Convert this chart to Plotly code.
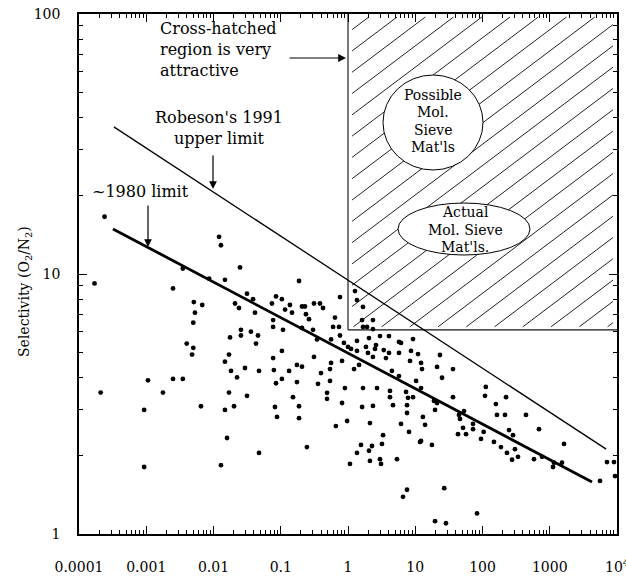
import numpy as np
import plotly.graph_objects as go

# ---------------- data ----------------
# O2 permeability (Barrer) and O2/N2 selectivity of the membrane materials
O2_PERMEABILITY = [
    0.00017, 0.00021, 0.00024, 0.00093, 0.00093, 0.00106, 0.00177, 0.0025, 0.0025, 0.0035,
    0.0035, 0.0040, 0.0050, 0.0048, 0.0050, 0.0051, 0.0053, 0.0065, 0.0068, 0.0086,
    0.0121, 0.0129, 0.0129, 0.0148, 0.0148, 0.0148, 0.0159, 0.017, 0.017, 0.0176,
    0.0182, 0.0202, 0.0209, 0.0224, 0.0239, 0.0248, 0.0256, 0.0256, 0.0294, 0.0315,
    0.0315, 0.036, 0.0387, 0.0414, 0.0429, 0.0459, 0.0475, 0.0475, 0.074, 0.077,
    0.077, 0.077, 0.079, 0.082, 0.085, 0.085, 0.088, 0.104, 0.104, 0.104,
    0.108, 0.116, 0.133, 0.137, 0.147, 0.152, 0.174, 0.174, 0.187, 0.187,
    0.187, 0.207, 0.229, 0.207, 0.207, 0.237, 0.245, 0.263, 0.302, 0.312,
    0.312, 0.346, 0.358, 0.383, 0.397, 0.425, 0.488, 0.488, 0.54, 0.54,
    0.56, 0.56, 0.60, 0.64, 0.66, 0.735, 0.76, 0.76, 0.815, 0.815,
    0.87, 0.90, 1.0, 0.97, 1.07, 1.11, 1.23, 1.27, 1.36, 1.36,
    1.36, 1.36, 1.46, 1.56, 1.62, 1.67, 1.62, 1.67, 1.67, 1.92,
    1.85, 1.98, 2.05, 2.05, 2.27, 2.12, 2.12, 2.35, 2.35, 2.35,
    2.35, 2.52, 2.61, 2.70, 2.99, 2.99, 3.1, 3.2, 3.4, 3.32,
    3.67, 4.07, 4.21, 4.21, 4.07, 4.5, 4.67, 5.35, 5.73, 6.14,
    5.73, 5.73, 6.14, 6.58, 7.29, 7.8, 9.26, 7.54, 7.54, 7.54,
    8.08, 8.65, 9.26, 10.3, 11.0, 8.36, 12.2, 12.6, 12.2, 11.8,
    12.2, 13.0, 14.0, 17.7, 19.0, 21.1, 19.7, 19.7, 21.1, 23.3,
    25.0, 27.0, 28.6, 36.4, 36.4, 43.2, 44.7, 46.3, 51.3, 53.1,
    56.9, 72.3, 72.3, 82.9, 95.0, 104, 112, 109, 158, 148,
    188, 216, 164, 224, 231, 248, 275, 284, 304, 337,
    443, 583, 692, 767, 1118, 1157, 1520, 1630, 5590, 7100,
    9020, 9340,
]
SELECTIVITY = [
    9.2, 3.5, 16.6, 3.0, 1.81, 3.9, 3.5, 8.8, 3.95, 10.5,
    3.95, 5.4, 5.2, 4.9, 6.5, 7.8, 7.1, 3.1, 7.6, 9.6,
    13.9, 12.9, 1.84, 9.5, 4.6, 3.0, 2.34, 4.9, 3.5, 5.7,
    4.24, 3.1, 7.7, 4.0, 7.4, 10.6, 6.1, 5.8, 4.35, 8.4,
    3.4, 6.0, 8.0, 7.1, 5.4, 5.8, 4.24, 2.05, 7.7, 6.65,
    6.26, 4.75, 4.27, 3.08, 8.2, 3.8, 2.82, 8.0, 5.06, 3.95,
    6.1, 7.3, 4.24, 7.6, 7.1, 3.36, 4.47, 3.84, 9.4, 3.1,
    2.79, 7.5, 7.5, 6.2, 4.4, 7.0, 2.16, 6.7, 6.1, 7.7,
    4.8, 5.6, 3.78, 7.7, 4.16, 7.4, 3.49, 3.31, 4.31, 3.88,
    5.6, 4.55, 6.26, 6.8, 2.6, 6.26, 8.15, 5.8, 4.63, 3.19,
    5.43, 3.64, 5.24, 2.72, 1.86, 5.15, 4.31, 8.6, 7.94, 5.53,
    5.06, 2.05, 4.47, 2.2, 6.65, 7.47, 3.08, 3.64, 6.26, 6.26,
    5.24, 4.97, 5.67, 2.09, 2.18, 2.67, 1.91, 6.65, 6.14, 4.8,
    3.11, 5.15, 5.33, 3.64, 5.77, 1.94, 1.86, 2.22, 5.1, 2.40,
    4.75, 5.77, 3.55, 3.36, 4.97, 4.24, 3.13, 1.94, 5.48, 5.43,
    4.97, 4.05, 2.65, 1.39, 3.52, 3.34, 3.36, 3.13, 2.92, 1.48,
    2.47, 5.06, 5.62, 3.88, 4.92, 4.63, 4.55, 4.31, 3.64, 2.26,
    2.28, 2.82, 2.63, 2.2, 3.25, 3.19, 3.0, 1.12, 4.39, 4.88,
    3.99, 1.50, 1.10, 4.31, 3.36, 2.42, 2.87, 2.77, 2.56, 2.97,
    2.42, 2.65, 2.53, 1.20, 2.32, 2.47, 3.68, 3.40, 3.16, 2.26,
    2.16, 2.87, 2.87, 3.36, 2.05, 2.51, 1.93, 2.40, 2.12, 1.98,
    2.87, 1.94, 2.53, 1.98, 1.81, 1.88, 1.88, 2.22, 1.60, 1.89,
    1.89, 1.67,
]

# upper-bound lines (end points)
ROBESON_1991_X = [3.3e-4, 6900]
ROBESON_1991_Y = [36.8, 2.12]
LIMIT_1980_X = [3.2e-4, 4250]
LIMIT_1980_Y = [14.9, 1.585]

# attractive (cross-hatched) region
REGION_X_MIN = 1.0
REGION_Y_MIN = 6.1

X_TICK_VALUES = [1e-4, 1e-3, 1e-2, 1e-1, 1, 10, 100, 1000, 1e4]
X_TICK_LABELS = ["0.0001", "0.001", "0.01", "0.1", "1", "10", "100", "1000", "10<sup>4</sup>"]
Y_TICK_VALUES = [1, 10, 100]
Y_TICK_LABELS = ["1", "10", "100"]

# ---------------- layout geometry ----------------
W, H = 626, 578
L, R, T, B = 79, 9, 14, 44
PW, PH = W - L - R, H - T - B
X_LOG_RANGE = [-4, 4]
Y_LOG_RANGE = [0, 2]
FONT = "DejaVu Serif"


def paper_x(px):
    return (px - L) / PW


def paper_y(py):
    return (H - B - py) / PH


fig = go.Figure()

# hatch lines inside the attractive region (computed in log space)
HATCH_SLOPE = 0.195   # decades of y per decade of x
HATCH_STEP = 0.42     # decades of x between lines
lx0, lx1 = np.log10(REGION_X_MIN), X_LOG_RANGE[1]
ly0, ly1 = np.log10(REGION_Y_MIN), Y_LOG_RANGE[1]
hx, hy = [], []
c = lx1 - 0.2
while c > lx0 - (ly1 - ly0) / HATCH_SLOPE:
    xs = max(lx0, c)
    xe = min(lx1, c + (ly1 - ly0) / HATCH_SLOPE)
    xs_i, xe_i = xs + 0.06, xe - 0.06
    if xe_i > xs_i:
        ys = ly0 + HATCH_SLOPE * (xs_i - c)
        ye = ly0 + HATCH_SLOPE * (xe_i - c)
        hx += [10 ** xs_i, 10 ** xe_i, None]
        hy += [10 ** ys, 10 ** ye, None]
    c -= HATCH_STEP
fig.add_trace(go.Scatter(x=hx, y=hy, mode="lines",
                         line=dict(color="#222", width=1), hoverinfo="skip"))

# region borders
fig.add_trace(go.Scatter(x=[REGION_X_MIN, REGION_X_MIN], y=[REGION_Y_MIN, 10 ** Y_LOG_RANGE[1]],
                         mode="lines", line=dict(color="#777", width=2), hoverinfo="skip"))
fig.add_trace(go.Scatter(x=[REGION_X_MIN, 10 ** X_LOG_RANGE[1]], y=[REGION_Y_MIN, REGION_Y_MIN],
                         mode="lines", line=dict(color="#111", width=1.3), hoverinfo="skip"))

# limit lines
fig.add_trace(go.Scatter(x=ROBESON_1991_X, y=ROBESON_1991_Y, mode="lines",
                         line=dict(color="black", width=1.3), name="Robeson 1991"))
fig.add_trace(go.Scatter(x=LIMIT_1980_X, y=LIMIT_1980_Y, mode="lines",
                         line=dict(color="black", width=2.8), name="1980 limit"))

# data points
fig.add_trace(go.Scatter(x=O2_PERMEABILITY, y=SELECTIVITY, mode="markers",
                         marker=dict(color="black", size=4.8), name="materials"))

# circle and ellipse (white filled so hatch is hidden inside)
fig.add_shape(type="circle", xref="paper", yref="paper",
              x0=paper_x(383), x1=paper_x(483), y0=paper_y(170), y1=paper_y(75),
              line=dict(color="black", width=1), fillcolor="white", layer="above")
fig.add_shape(type="circle", xref="paper", yref="paper",
              x0=paper_x(398), x1=paper_x(530), y0=paper_y(255), y1=paper_y(203),
              line=dict(color="black", width=1), fillcolor="white", layer="above")

annotations = []


def text(s, px, py, size=16, xanchor="center", align="center"):
    annotations.append(dict(text=s, x=paper_x(px), y=paper_y(py), xref="paper", yref="paper",
                            xanchor=xanchor, yanchor="middle", showarrow=False, align=align,
                            font=dict(family=FONT, size=size, color="black")))


def arrow(hx_, hy_, tx, ty):
    annotations.append(dict(text="", x=paper_x(hx_), y=paper_y(hy_), xref="paper", yref="paper",
                            ax=tx - hx_, ay=ty - hy_, axref="pixel", ayref="pixel",
                            showarrow=True, arrowhead=2, arrowsize=1.3, arrowwidth=1.2,
                            arrowcolor="black"))


text("Cross-hatched<br>region is very<br>attractive", 158, 50, xanchor="left", align="left")
arrow(346, 58, 288, 58)

text("Robeson's 1991<br>upper limit", 219, 128)
arrow(213, 189, 213, 154)

text("~1980 limit", 140, 191)
arrow(148, 247, 148, 204)

for s, py in [("Possible", 95), ("Mol.", 112), ("Sieve", 130), ("Mat'ls", 147)]:
    text(s, 433, py, size=14)
for s, py in [("Actual", 212), ("Mol. Sieve", 230), ("Mat'ls.", 247)]:
    text(s, 465, py, size=14)

annotations.append(dict(text="Selectivity (O<sub>2</sub>/N<sub>2</sub>)", textangle=-90,
                        x=paper_x(25), y=paper_y(292), xref="paper", yref="paper",
                        xanchor="center", yanchor="middle", showarrow=False,
                        font=dict(family=FONT, size=14, color="black")))

x_minor = [m * 10.0 ** e for e in range(-4, 4) for m in range(2, 10)]
y_minor = [m * 10.0 ** e for e in range(0, 2) for m in range(2, 10)]

axis_common = dict(showgrid=False, zeroline=False, showline=True, linecolor="black",
                   linewidth=1.6, mirror="allticks", ticks="inside", ticklen=8,
                   tickcolor="black", tickwidth=1.2, automargin=False,
                   ticklabeloverflow="allow",
                   tickfont=dict(family=FONT, size=14, color="black"))

fig.update_layout(
    template="none",
    width=W, height=H,
    margin=dict(l=L, r=R, t=T, b=B, pad=0),
    paper_bgcolor="white", plot_bgcolor="white",
    showlegend=False,
    annotations=annotations,
    xaxis=dict(type="log", range=X_LOG_RANGE, tickmode="array",
               tickvals=X_TICK_VALUES, ticktext=X_TICK_LABELS, ticklabelstandoff=19,
               minor=dict(tickmode="array", tickvals=x_minor, ticks="inside",
                          ticklen=4, tickcolor="black", showgrid=False),
               **axis_common),
    yaxis=dict(type="log", range=Y_LOG_RANGE, tickmode="array",
               tickvals=Y_TICK_VALUES, ticktext=Y_TICK_LABELS, ticklabelstandoff=14,
               minor=dict(tickmode="array", tickvals=y_minor, ticks="inside",
                          ticklen=4, tickcolor="black", showgrid=False),
               **axis_common),
)

fig.write_html("out.html")
